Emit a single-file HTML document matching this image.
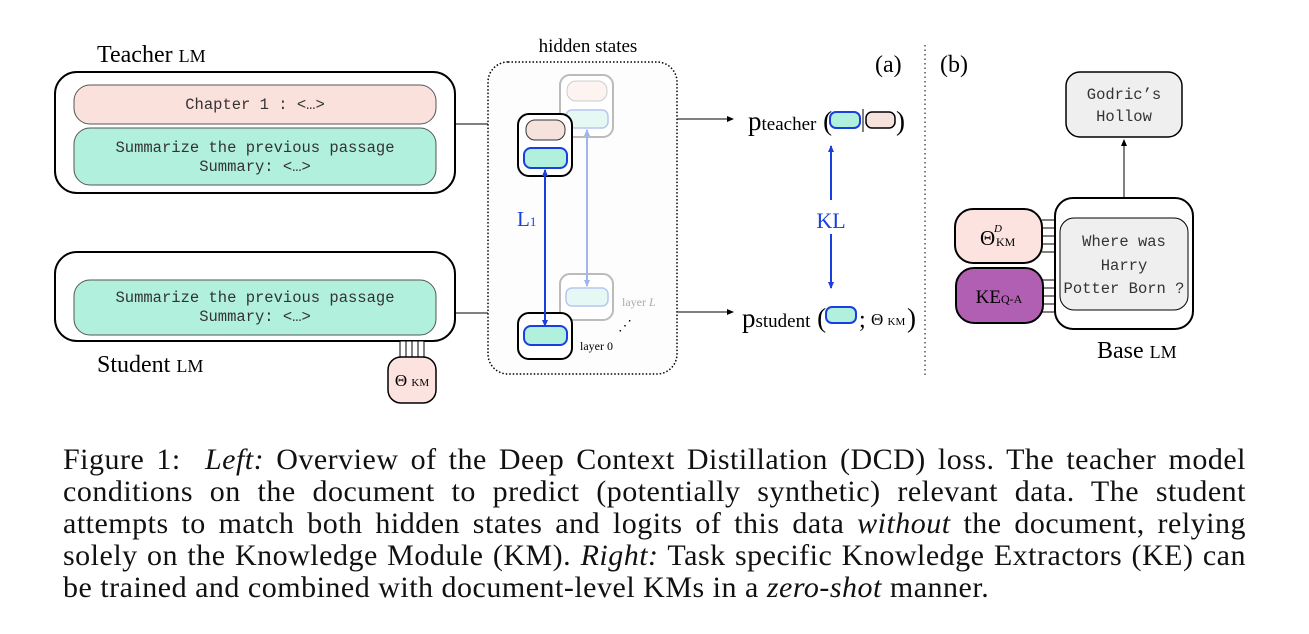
<!DOCTYPE html>
<html><head><meta charset="utf-8"><style>
body{margin:0;background:#fff;width:1309px;height:634px;overflow:hidden;position:relative;font-family:"Liberation Serif",serif}
svg{position:absolute;left:0;top:0}
.cap{position:absolute;left:63px;top:444px;width:1183px;font-size:30px;letter-spacing:0.5px;line-height:32px;color:#111}
.cap div{text-align:justify;text-align-last:justify;white-space:nowrap}
.cap div.l{text-align-last:left}
</style></head><body>
<svg width="1309" height="634" font-family="Liberation Serif, serif">
<defs>
<marker id="ab" markerWidth="8" markerHeight="8" refX="6" refY="4" orient="auto-start-reverse" markerUnits="userSpaceOnUse"><path d="M0,1 L7,4 L0,7z" fill="#1a3fe0"/></marker>
<marker id="al" markerWidth="8" markerHeight="8" refX="6" refY="4" orient="auto-start-reverse" markerUnits="userSpaceOnUse"><path d="M0,1 L7,4 L0,7z" fill="#9fb4f0"/></marker>
<marker id="ak" markerWidth="8" markerHeight="8" refX="6" refY="4" orient="auto" markerUnits="userSpaceOnUse"><path d="M0,1 L7,4 L0,7z" fill="#000"/></marker>
</defs>
<text x="97" y="62" font-size="24">Teacher <tspan font-size="18">LM</tspan></text>
<rect x="55" y="72" width="400" height="121" rx="22" fill="#fff" stroke="#000" stroke-width="2"/>
<rect x="74" y="85" width="362" height="39" rx="16" fill="#fbe1dc" stroke="#555"/>
<text x="255" y="109" font-family="Liberation Mono, monospace" font-size="15.5" text-anchor="middle" fill="#333">Chapter 1 : &lt;…&gt;</text>
<rect x="74" y="128" width="362" height="57" rx="16" fill="#b1f0dc" stroke="#555"/>
<text x="255" y="152" font-family="Liberation Mono, monospace" font-size="15.5" text-anchor="middle" fill="#333">Summarize the previous passage</text>
<text x="255" y="171" font-family="Liberation Mono, monospace" font-size="15.5" text-anchor="middle" fill="#333">Summary: &lt;…&gt;</text>
<line x1="455" y1="124" x2="488" y2="124" stroke="#000"/>
<rect x="55" y="252" width="400" height="89" rx="22" fill="#fff" stroke="#000" stroke-width="2"/>
<rect x="74" y="280" width="362" height="55" rx="16" fill="#b1f0dc" stroke="#555"/>
<text x="255" y="302" font-family="Liberation Mono, monospace" font-size="15.5" text-anchor="middle" fill="#333">Summarize the previous passage</text>
<text x="255" y="321" font-family="Liberation Mono, monospace" font-size="15.5" text-anchor="middle" fill="#333">Summary: &lt;…&gt;</text>
<line x1="455" y1="313" x2="488" y2="313" stroke="#000"/>
<text x="97" y="372" font-size="24">Student <tspan font-size="18">LM</tspan></text>
<g stroke="#000"><rect x="400" y="341" width="24" height="16" fill="#fff"/><line x1="406" y1="341" x2="406" y2="357"/><line x1="412" y1="341" x2="412" y2="357"/><line x1="418" y1="341" x2="418" y2="357"/></g>
<rect x="388" y="357" width="48" height="46" rx="13" fill="#fde3e0" stroke="#000" stroke-width="1.5"/>
<text x="412" y="386" font-size="17" text-anchor="middle">Θ <tspan font-size="11">KM</tspan></text>
<text x="588" y="52" font-size="19" text-anchor="middle">hidden states</text>
<rect x="488" y="62" width="189" height="312" rx="20" fill="#fdfdfd" stroke="#000" stroke-dasharray="1.5,2" stroke-width="1.5"/>
<rect x="560" y="75" width="53" height="62" rx="10" fill="#fff" stroke="#bbb" stroke-width="2"/>
<rect x="567" y="81" width="40" height="20" rx="9" fill="#fdf3f1" stroke="#ccc"/>
<rect x="566" y="110" width="42" height="18" rx="6" fill="#e6f8f4" stroke="#b7c6f2" stroke-width="1.5"/>
<rect x="560" y="274" width="53" height="46" rx="10" fill="#fff" stroke="#bbb" stroke-width="2"/>
<rect x="566" y="288" width="42" height="18" rx="6" fill="#e6f8f4" stroke="#b7c6f2" stroke-width="1.5"/>
<line x1="587" y1="130" x2="587" y2="286" stroke="#9fb4f0" stroke-width="2" marker-start="url(#al)" marker-end="url(#al)"/>
<rect x="518" y="114" width="54" height="62" rx="11" fill="#fff" stroke="#000" stroke-width="2"/>
<rect x="526" y="120" width="39" height="20" rx="9" fill="#f6e2dc" stroke="#333"/>
<rect x="524" y="148" width="43" height="20" rx="7" fill="#b1f0dc" stroke="#1a3fe0" stroke-width="2"/>
<rect x="518" y="313" width="54" height="46" rx="11" fill="#fff" stroke="#000" stroke-width="2"/>
<rect x="524" y="326" width="43" height="19" rx="7" fill="#b1f0dc" stroke="#1a3fe0" stroke-width="2"/>
<line x1="545" y1="170" x2="545" y2="326" stroke="#1a3fe0" stroke-width="2" marker-start="url(#ab)" marker-end="url(#ab)"/>
<text x="517" y="226" font-size="21" fill="#1a3fe0">L<tspan font-size="13">1</tspan></text>
<text x="622" y="306" font-size="12" fill="#aaa">layer <tspan font-style="italic">L</tspan></text>
<text x="580" y="350" font-size="12">layer 0</text>
<text x="618" y="330" font-size="14">⋰</text>
<line x1="677" y1="119" x2="733" y2="119" stroke="#000" marker-end="url(#ak)"/>
<line x1="677" y1="312" x2="733" y2="312" stroke="#000" marker-end="url(#ak)"/>
<text x="748" y="130" font-size="27">p<tspan font-size="19">teacher</tspan> (</text>
<rect x="830" y="112" width="30" height="16" rx="6" fill="#b1f0dc" stroke="#1a3fe0" stroke-width="2"/>
<line x1="863" y1="109" x2="863" y2="132" stroke="#000"/>
<rect x="866" y="112" width="29" height="16" rx="6" fill="#f6e2dc" stroke="#000" stroke-width="1.5"/>
<text x="896" y="130" font-size="27">)</text>
<line x1="831" y1="200" x2="831" y2="146" stroke="#1a3fe0" stroke-width="2" marker-end="url(#ab)"/>
<text x="831" y="228" font-size="22" fill="#1a3fe0" text-anchor="middle">KL</text>
<line x1="831" y1="234" x2="831" y2="288" stroke="#1a3fe0" stroke-width="2" marker-end="url(#ab)"/>
<text x="742" y="327" font-size="27">p<tspan font-size="19">student</tspan> (</text>
<rect x="826" y="307" width="30" height="16" rx="6" fill="#b1f0dc" stroke="#1a3fe0" stroke-width="2"/>
<text x="859" y="327" font-size="24">;</text><text x="871" y="325" font-size="17">Θ <tspan font-size="11">KM</tspan></text><text x="907" y="327" font-size="27">)</text>
<text x="875" y="72" font-size="24">(a)</text>
<line x1="925" y1="45" x2="925" y2="375" stroke="#000" stroke-dasharray="1.5,3"/>
<text x="940" y="72" font-size="24">(b)</text>
<rect x="1066" y="72" width="116" height="65" rx="14" fill="#efefef" stroke="#000" stroke-width="1.5"/>
<text x="1124" y="99" font-family="Liberation Mono, monospace" font-size="15.5" text-anchor="middle" fill="#333">Godric’s</text>
<text x="1124" y="121" font-family="Liberation Mono, monospace" font-size="15.5" text-anchor="middle" fill="#333">Hollow</text>
<line x1="1124" y1="197" x2="1124" y2="140" stroke="#000" marker-end="url(#ak)"/>
<rect x="1055" y="198" width="138" height="131" rx="18" fill="#fff" stroke="#000" stroke-width="2"/>
<rect x="1060" y="218" width="128" height="92" rx="14" fill="#efefef" stroke="#000"/>
<text x="1124" y="246" font-family="Liberation Mono, monospace" font-size="15.5" text-anchor="middle" fill="#333">Where was</text>
<text x="1124" y="270" font-family="Liberation Mono, monospace" font-size="15.5" text-anchor="middle" fill="#333">Harry</text>
<text x="1124" y="293" font-family="Liberation Mono, monospace" font-size="15.5" text-anchor="middle" fill="#333">Potter Born ?</text>
<g stroke="#000"><line x1="1042" y1="220" x2="1055" y2="220"/><line x1="1042" y1="228" x2="1055" y2="228"/><line x1="1042" y1="236" x2="1055" y2="236"/><line x1="1042" y1="244" x2="1055" y2="244"/><line x1="1042" y1="252" x2="1055" y2="252"/>
<line x1="1042" y1="280" x2="1055" y2="280"/><line x1="1042" y1="288" x2="1055" y2="288"/><line x1="1042" y1="296" x2="1055" y2="296"/><line x1="1042" y1="304" x2="1055" y2="304"/><line x1="1042" y1="312" x2="1055" y2="312"/></g>
<rect x="955" y="209" width="87" height="54" rx="18" fill="#fde3e0" stroke="#000" stroke-width="2"/>
<text x="980" y="245" font-size="21">Θ</text><text x="994" y="232" font-size="11" font-style="italic">D</text><text x="996" y="246" font-size="12">KM</text>
<rect x="956" y="268" width="87" height="55" rx="18" fill="#b15fb3" stroke="#000" stroke-width="2"/>
<text x="999" y="303" font-size="19" text-anchor="middle">KE<tspan font-size="12">Q-A</tspan></text>
<text x="1097" y="358" font-size="24">Base <tspan font-size="18">LM</tspan></text>
</svg>
<div class="cap">
<div>Figure 1:&nbsp; <i>Left:</i> Overview of the Deep Context Distillation (DCD) loss. The teacher model</div>
<div>conditions on the document to predict (potentially synthetic) relevant data. The student</div>
<div>attempts to match both hidden states and logits of this data <i>without</i> the document, relying</div>
<div>solely on the Knowledge Module (KM). <i>Right:</i> Task specific Knowledge Extractors (KE) can</div>
<div class="l">be trained and combined with document-level KMs in a <i>zero-shot</i> manner.</div>
</div>
</body></html>
